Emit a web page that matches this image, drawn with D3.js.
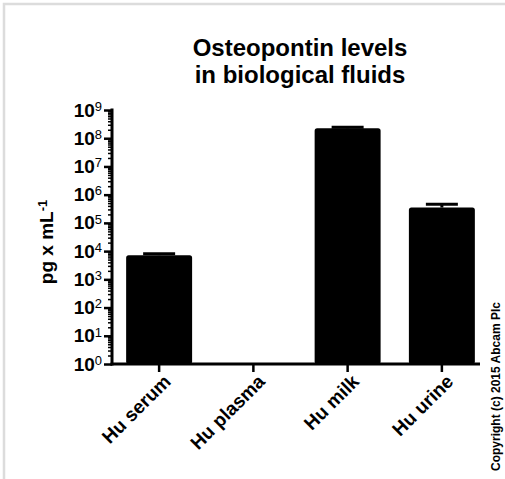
<!DOCTYPE html>
<html>
<head>
<meta charset="utf-8">
<script src="https://cdn.jsdelivr.net/npm/d3@7"></script>
<style>
  body { margin: 0; background: #fff; }
  svg { display: block; font-family: "Liberation Sans", Arial, sans-serif; }
</style>
</head>
<body>
<svg id="chart" width="505" height="479"></svg>
<script>
const categories = ["Hu serum", "Hu plasma", "Hu milk", "Hu urine"];
const values = [7200, null, 2.25e8, 3.5e5];
const errUpper = [8000, null, 2.45e8, 4.6e5];
const yTickExps = [0, 1, 2, 3, 4, 5, 6, 7, 8, 9];
const title = ["Osteopontin levels", "in biological fluids"];
const copyright = "Copyright (c) 2015 Abcam Plc";

const svg = d3.select("#chart");

// frame border (top and left only)
svg.append("path").attr("d", "M4,479V4H505")
  .attr("fill", "none").attr("stroke", "#dcdcdc").attr("stroke-width", 2.5);

const y = d3.scaleLog().domain([1, 1e9]).range([364, 110]);
const x = d3.scaleBand().domain(categories).range([112, 489]).paddingInner(0.3).paddingOuter(0.15);

// bars
const data = categories.map((c, i) => ({c, v: values[i], e: errUpper[i]})).filter(d => d.v != null);
svg.append("g").selectAll("rect").data(data).join("rect")
  .attr("x", d => x(d.c)).attr("y", d => y(d.v))
  .attr("width", x.bandwidth()).attr("height", d => y(1) - y(d.v))
  .attr("fill", "#000").attr("rx", 2.5);

// error bars
const eg = svg.append("g").attr("stroke", "#000").attr("stroke-width", 3);
data.forEach(d => {
  const cx = x(d.c) + x.bandwidth() / 2;
  eg.append("line").attr("x1", cx).attr("x2", cx).attr("y1", y(d.v)).attr("y2", y(d.e));
  eg.append("line").attr("x1", cx - 16).attr("x2", cx + 16).attr("y1", y(d.e)).attr("y2", y(d.e));
});

// y axis minor ticks
const minor = [];
for (let e = 0; e < 9; e++) for (let k = 2; k <= 9; k++) minor.push(k * Math.pow(10, e));
const minorAxis = svg.append("g").attr("transform", "translate(112,0)")
  .call(d3.axisLeft(y).tickValues(minor).tickSize(4).tickFormat(""));
minorAxis.select(".domain").remove();
minorAxis.selectAll("line").attr("stroke", "#000").attr("stroke-width", 1.5);

// y axis major
const yAxis = svg.append("g").attr("transform", "translate(112,0)")
  .call(d3.axisLeft(y).tickValues(yTickExps.map(e => Math.pow(10, e))).tickSize(8).tickSizeOuter(0).tickFormat(""));
yAxis.select(".domain").attr("stroke", "#000").attr("stroke-width", 3).attr("d", "M0,365.5V108.5");
yAxis.selectAll(".tick line").attr("stroke", "#000").attr("stroke-width", 2.5);
yAxis.selectAll(".tick").each(function(d, i) {
  const t = d3.select(this).append("text")
    .attr("x", -10).attr("dy", "0.32em").attr("text-anchor", "end")
    .attr("fill", "#000").style("font-size", "19px").style("font-weight", "bold");
  t.append("tspan").text("10");
  t.append("tspan").attr("dy", "-0.45em").style("font-size", "13px").style("font-weight", "normal").text(yTickExps[i]);
});

// x axis
const xAxis = svg.append("g").attr("transform", "translate(0,364)")
  .call(d3.axisBottom(x).tickSize(8).tickSizeOuter(0));
xAxis.select(".domain").attr("stroke", "#000").attr("stroke-width", 3).attr("d", "M110.5,0H480");
xAxis.selectAll(".tick line").attr("stroke", "#000").attr("stroke-width", 2.5);
xAxis.selectAll(".tick text")
  .attr("transform", "translate(8,14) rotate(-45)")
  .attr("x", 0).attr("y", 0).attr("dy", "0.35em")
  .attr("text-anchor", "end").attr("fill", "#000")
  .style("font-size", "19px").style("font-weight", "bold");

// y axis title
const yt = svg.append("text").attr("transform", "translate(53,242) rotate(-90)")
  .attr("text-anchor", "middle").attr("fill", "#000")
  .style("font-size", "19px").style("font-weight", "bold");
yt.append("tspan").text("pg x mL");
yt.append("tspan").attr("dy", "-0.5em").style("font-size", "13px").text("-1");

// title
svg.append("g").selectAll("text").data(title).join("text")
  .attr("x", 300).attr("y", (d, i) => 56 + i * 27)
  .attr("text-anchor", "middle").attr("fill", "#000")
  .style("font-size", "24px").style("font-weight", "bold").text(d => d);

// copyright
svg.append("text").attr("transform", "translate(500,471) rotate(-90)")
  .attr("text-anchor", "start").attr("fill", "#000")
  .style("font-size", "12px").style("font-weight", "bold").text(copyright);
</script>
</body>
</html>
